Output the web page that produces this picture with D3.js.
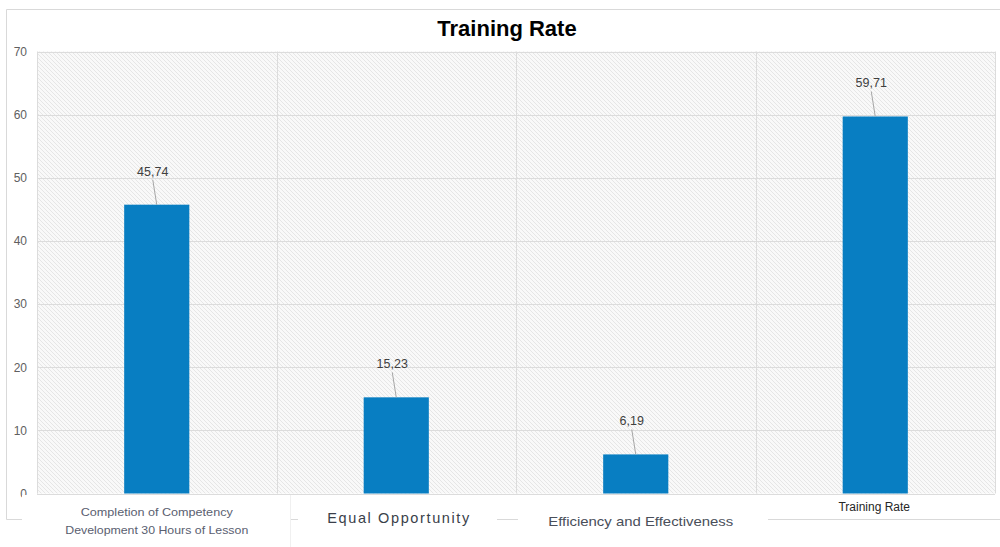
<!DOCTYPE html>
<html>
<head>
<meta charset="utf-8">
<script src="https://cdn.jsdelivr.net/npm/d3@7"></script>
<style>
  html, body { margin: 0; padding: 0; background: #fff; }
  svg { display: block; font-family: "Liberation Sans", Arial, sans-serif; }
</style>
</head>
<body>
<svg id="chart" width="1000" height="547"></svg>
<script>
// Chart data
const categories = [
  "Completion of Competency Development 30 Hours of Lesson",
  "Equal Opportunity",
  "Efficiency and Effectiveness",
  "Training Rate"
];
const values = [45.74, 15.23, 6.19, 59.71];
const valueLabels = ["45,74", "15,23", "6,19", "59,71"];
const yTicks = [0, 10, 20, 30, 40, 50, 60, 70];
const title = "Training Rate";

const svg = d3.select("#chart");
const plot = { left: 37, right: 995, top: 51.5, bottom: 493.5 };

// Hatched plot background (fine diagonal lines running down to the right)
const defs = svg.append("defs");
const pat = defs.append("pattern")
  .attr("id", "hatch").attr("patternUnits", "userSpaceOnUse")
  .attr("width", 4).attr("height", 4);
pat.append("rect").attr("width", 4).attr("height", 4).attr("fill", "#f9f9f9");
pat.append("path").attr("d", "M-1,3 l2,2 M0,0 l4,4 M3,-1 l2,2")
  .attr("stroke", "#e6e6e6").attr("stroke-width", 1);

// Outer frame (left, top, bottom edges)
svg.append("path")
  .attr("d", `M1000,9.5 H6.5 V519.5 H1000`)
  .attr("fill", "none").attr("stroke", "#d9d9d9").attr("stroke-width", 1);

const x = d3.scaleBand().domain(categories).range([plot.left, plot.right]).paddingInner(0).paddingOuter(0);
const y = d3.scaleLinear().domain([0, 70]).range([plot.bottom, plot.top]);
const barW = x.bandwidth() * 0.272;

svg.append("rect")
  .attr("x", plot.left).attr("y", plot.top)
  .attr("width", plot.right - plot.left).attr("height", plot.bottom - plot.top)
  .attr("fill", "url(#hatch)");

// Horizontal gridlines
svg.append("g").selectAll("line").data(yTicks).join("line")
  .attr("x1", plot.left).attr("x2", plot.right)
  .attr("y1", d => Math.round(y(d)) + 0.5).attr("y2", d => Math.round(y(d)) + 0.5)
  .attr("stroke", "#dcdcdc").attr("stroke-width", 1);

// Vertical category separators
const seps = categories.map(c => x(c)).concat([plot.right]);
svg.append("g").selectAll("line").data(seps).join("line")
  .attr("x1", d => Math.round(d) + 0.5).attr("x2", d => Math.round(d) + 0.5)
  .attr("y1", plot.top).attr("y2", plot.bottom)
  .attr("stroke", "#dcdcdc").attr("stroke-width", 1);

// Y axis labels
const yAxis = d3.axisLeft(y).tickValues(yTicks).tickSize(0).tickPadding(10);
const gy = svg.append("g").attr("transform", `translate(${plot.left},0)`).call(yAxis);
gy.select(".domain").remove();
gy.selectAll("text").attr("font-size", 12).attr("fill", "#606060")
  .attr("font-family", "Liberation Sans, Arial, sans-serif");

// Bars
svg.append("g").selectAll("rect").data(values).join("rect")
  .attr("x", (d, i) => x(categories[i]) + x.bandwidth() / 2 - barW / 2)
  .attr("y", d => y(d))
  .attr("width", barW)
  .attr("height", d => y(0) - y(d))
  .attr("fill", "#087ec2");

// Leader lines and value labels
const lab = svg.append("g");
values.forEach((v, i) => {
  const cx = x(categories[i]) + x.bandwidth() / 2;
  const ty = y(v) - 29;
  lab.append("line")
    .attr("x1", cx - 4).attr("y1", ty + 4)
    .attr("x2", cx).attr("y2", y(v))
    .attr("stroke", "#a6a6a6").attr("stroke-width", 1);
  lab.append("text")
    .attr("x", cx - 4).attr("y", ty)
    .attr("text-anchor", "middle").attr("font-size", 12.5)
    .attr("fill", "#404040").text(valueLabels[i]);
});

// Category label backgrounds over the frame
const patches = [[22, 290], [298, 497], [518, 768]];
svg.append("g").selectAll("rect").data(patches).join("rect")
  .attr("x", d => d[0]).attr("y", 495).attr("width", d => d[1] - d[0]).attr("height", 52)
  .attr("fill", "#fff");
svg.append("line").attr("x1", 290.5).attr("x2", 290.5).attr("y1", 495).attr("y2", 547)
  .attr("stroke", "#f0f0f0");

// Category labels
const cx0 = x(categories[0]) + x.bandwidth() / 2;
const first = svg.append("g").attr("fill", "#5a6070").attr("font-size", 10.5);
first.append("text").attr("x", cx0).attr("y", 516).attr("text-anchor", "middle")
  .attr("textLength", 152).attr("lengthAdjust", "spacingAndGlyphs")
  .text("Completion of Competency");
first.append("text").attr("x", cx0).attr("y", 534).attr("text-anchor", "middle")
  .attr("textLength", 183).attr("lengthAdjust", "spacingAndGlyphs")
  .text("Development 30 Hours of Lesson");

svg.append("text").attr("x", x(categories[1]) + x.bandwidth() / 2 + 2).attr("y", 523)
  .attr("text-anchor", "middle").attr("font-size", 14.5).attr("fill", "#3a3f4a")
  .attr("textLength", 142).attr("lengthAdjust", "spacing")
  .text(categories[1]);

svg.append("text").attr("x", x(categories[2]) + x.bandwidth() / 2 + 5).attr("y", 526)
  .attr("text-anchor", "middle").attr("font-size", 13).attr("fill", "#4a4f5a")
  .attr("textLength", 185).attr("lengthAdjust", "spacingAndGlyphs")
  .text(categories[2]);

svg.append("text").attr("x", x(categories[3]) + x.bandwidth() / 2 - 1).attr("y", 511)
  .attr("text-anchor", "middle").attr("font-size", 12).attr("fill", "#262626")
  .text(categories[3]);

// Title
svg.append("text").attr("x", 507).attr("y", 36).attr("text-anchor", "middle")
  .attr("font-size", 22).attr("font-weight", "bold").attr("fill", "#000")
  .text(title);
</script>
</body>
</html>
